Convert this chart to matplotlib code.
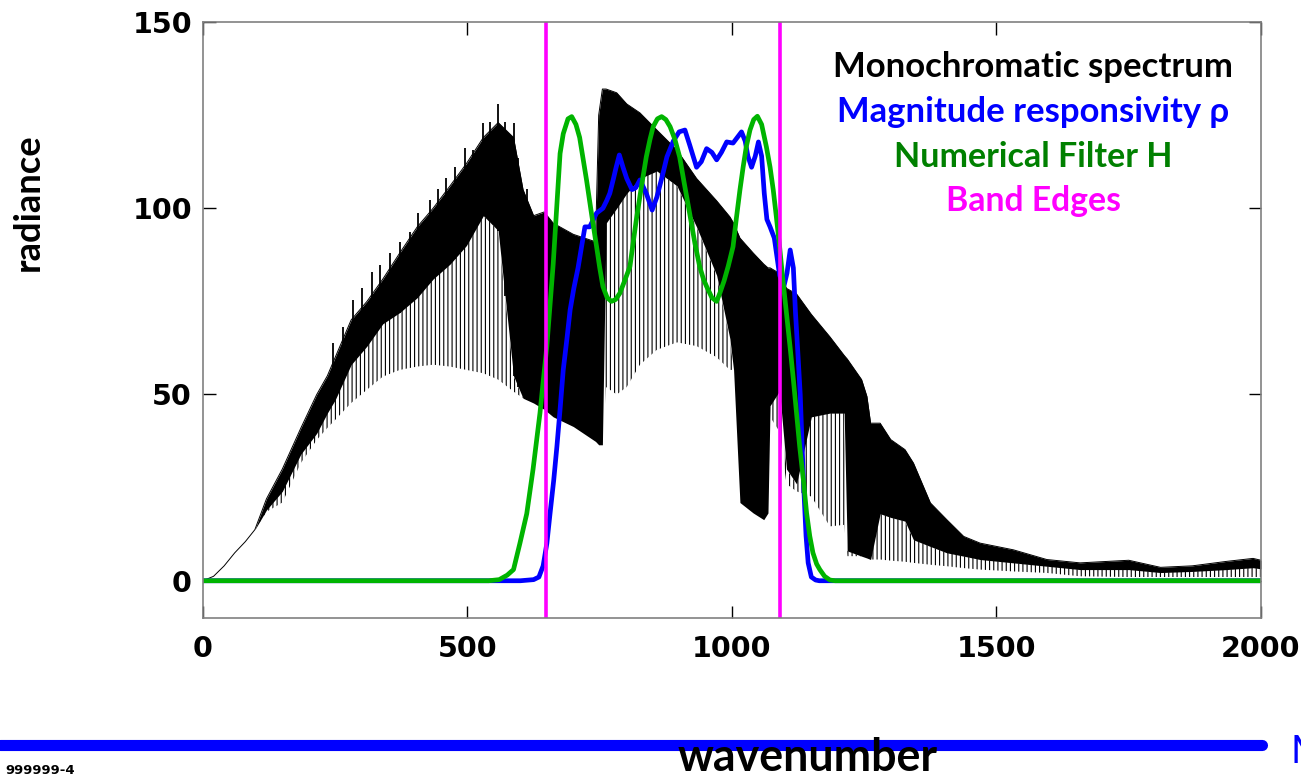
import numpy as np
import matplotlib
matplotlib.use("Agg")
import matplotlib.pyplot as plt
from matplotlib.lines import Line2D

# monochromatic spectrum, read off the picture as three edges:
# top of the black mass, bottom of the solid black part, bottom of the sparse lines
SPEC_WN = [0, 20, 40, 60, 80, 98, 120, 150, 185, 215, 235, 250, 280, 310, 340,
           372, 405, 435, 467, 498, 530, 558, 587, 605, 625, 645, 662, 700, 742,
           748, 755, 762, 782, 801, 826, 858, 896, 933, 971, 996, 1003, 1015,
           1040, 1060, 1068, 1072, 1090, 1103, 1122, 1150, 1185, 1212, 1218,
           1245, 1255, 1262, 1280, 1300, 1327, 1343, 1375, 1406, 1438, 1469, 1532, 1595,
           1658, 1750, 1810, 1870, 1935, 1985, 2000]
SPEC_HI = [0, 1.2, 4.0, 7.5, 10.5, 13.7, 22, 30, 41, 50, 55, 60, 70, 75, 81,
           88, 95, 100, 106, 112, 119, 123, 119, 105, 98, 99, 96, 93, 91,
           125, 132, 132, 131, 128, 125.6, 121, 115.6, 108, 102, 97.7, 96, 92,
           88, 85, 84, 84, 82.5, 78.5, 77, 71.5, 65.5, 60.5, 59.5,
           54, 49.5, 42.3, 42.3, 37.9, 35.2, 31.6, 20.9, 16.4, 11.9, 10.1, 8.3, 5.7,
           4.8, 5.5, 3.6, 4.0, 5.2, 6.0, 5.5]
SPEC_CORE = [0, 1.2, 4.0, 7.5, 10.5, 13.7, 19, 24, 34, 39.6, 45, 48.6, 58, 63, 69,
             72, 76, 81, 85, 90, 98, 94, 55, 49, 47.7, 46, 44, 41.4, 37.4,
             36.5, 36.5, 96, 100, 104, 108, 110, 106, 95, 82, 65, 56.6, 21,
             18.2, 16.4, 18.2, 47, 51, 30, 26, 44, 45, 45, 8,
             6.6, 6.1, 5.7, 18, 17, 16, 11, 9.2, 7.5, 6.6, 5.7, 4.8, 3.9,
             3.0, 3.0, 2.2, 2.5, 3.0, 3.5, 3.2]
SPEC_LO = [0, 1.2, 4.0, 7.5, 10.5, 13.7, 18.5, 21, 31.6, 37.8, 41, 43.2, 47.7, 51.3, 54.8,
           56.6, 57.5, 58, 57.5, 56.6, 55.7, 54, 50.8, 49, 47.7, 46, 44, 41.4, 37.4,
           36.5, 36.5, 52, 50, 52, 58, 62, 64, 63, 60, 56.6, 56.6, 21,
           18.2, 16.4, 18.2, 44, 40, 26, 24, 22.6, 14.6, 15, 6.6,
           6.6, 6.1, 5.7, 5.7, 5.4, 5.1, 4.8, 4.3, 3.9, 3.4, 3.0, 2.5, 2.1,
           1.2, 1.0, 1.0, 1.0, 1.0, 1.0, 1.0]

# tallest single lines sticking out above the black mass
SPIKE_WN = [246, 265, 284, 300, 319, 335, 354, 372, 391, 407, 429, 445, 460,
            476, 495, 511, 530, 542, 558, 571, 587, 596, 612]
SPIKE_TOP = [63.7, 68.2, 75.4, 78.5, 83, 84.8, 87.9, 91, 93.7, 98.6, 102.2,
             105.3, 108, 111.1, 116.1, 115.6, 122.8, 123.2, 128.1, 123.2, 122.8,
             113.4, 105.3]

# magnitude responsivity rho
RHO_WN = [0, 600, 625, 635, 643, 650, 656, 663, 669, 675, 681, 688, 694, 701,
          709, 716, 722, 731, 744, 756, 763, 769, 776, 781, 787, 794, 801, 811,
          818, 826, 838, 849, 858, 868, 877, 889, 900, 911, 920, 933, 942, 952,
          962, 971, 980, 990, 1002, 1010, 1018, 1025, 1030, 1037, 1044, 1050,
          1056, 1061, 1066, 1072, 1080, 1090, 1098, 1104, 1110, 1116, 1120,
          1125, 1129, 1135, 1140, 1144, 1150, 1158, 1165, 2000]
RHO = [0, 0, 0.3, 1, 4, 10, 18, 27, 36, 46, 56.6, 65, 72.7, 78.5,
       84, 90, 95, 95, 98.7, 100, 102, 104, 108, 111, 114.3, 111, 108, 105,
       105.5, 107.6, 104, 99.5, 103, 108.5, 113.8, 118, 120.5, 121, 117, 111, 112.5, 116,
       115, 113, 115, 117.8, 117.5, 119, 120.5, 118, 114, 111, 114, 117.8,
       114, 104, 97, 95, 92, 82, 79, 82.6, 88.8, 84, 72,
       60, 50, 27, 12, 4.8, 1, 0.2, 0, 0]

# numerical filter H
H_WN = [0, 540, 560, 575, 587, 599, 612, 624, 637, 650, 662, 675, 681, 690, 697,
        705, 712, 725, 735, 744, 750, 756, 764, 772, 780, 788, 797, 807, 819,
        829, 838, 845, 851, 859, 867, 875, 883, 892, 901, 910, 920, 930, 939,
        946, 952, 962, 971, 977, 985, 993, 1002, 1008, 1015, 1021, 1027, 1034,
        1041, 1048, 1056, 1065, 1072, 1078, 1084, 1090, 1096, 1103, 1110, 1116,
        1122, 1128, 1135, 1141, 1147, 1153, 1160, 1166, 1175, 1185, 1195, 2000]
H = [0, 0, 0.3, 1.5, 3, 10, 18, 30, 45, 63, 85, 114.7, 120, 124, 124.6,
     122.5, 119, 107.6, 98, 89.7, 84, 79, 76, 75, 75.5, 77.2, 80.5, 84.3, 96.8,
     106, 113.8, 118.5, 121.9, 124, 124.6, 123.8, 121.9, 118.5, 113.8, 106.5, 98.6, 90.5, 84.3,
     81, 79, 76, 75, 77.2, 80.5, 84.5, 89.7, 97, 104.9, 111, 116.5, 121,
     123.8, 124.7, 122.5, 116.5, 111, 104.9, 97.5, 89.7, 81, 71.8, 62.5, 54,
     45, 36, 27, 18.2, 12, 7.5, 4.5, 3, 1.2, 0.2, 0, 0]

BAND_EDGES = [648, 1091]

LEGEND_LINES = ["Monochromatic spectrum", "Magnitude responsivity ρ",
                "Numerical Filter H", "Band Edges"]
LEGEND_COLORS = ["black", "blue", "#008000", "magenta"]
LEGEND_WIDTHS = [400, 392, 278, 175]   # pixel widths on the slide
LEGEND_BASELINES = [77, 122, 167, 211]

XTICKS = [0, 500, 1000, 1500, 2000]
YTICKS = [0, 50, 100, 150]

plt.rcParams["hatch.linewidth"] = 0.8
SANS = ["Lato", "DejaVu Sans"]

fig = plt.figure(figsize=(13.01, 7.76), dpi=100)
ax = fig.add_axes([0.15603, 0.20361, 0.81322, 0.76804])


def fit_width(txt, width_px, vertical=False):
    r = fig.canvas.get_renderer()
    bb = txt.get_window_extent(r)
    w = bb.height if vertical else bb.width
    txt.set_fontsize(txt.get_fontsize() * width_px / w)


# spectrum
ax.fill_between(SPEC_WN, SPEC_CORE, SPEC_HI, color="black", lw=0)
ax.fill_between(SPEC_WN, SPEC_LO, SPEC_CORE, facecolor="none", edgecolor="black",
                hatch="||||", lw=0)
ax.plot(SPEC_WN, SPEC_HI, color="black", lw=0.7)
ax.vlines(SPIKE_WN, np.interp(SPIKE_WN, SPEC_WN, SPEC_CORE), SPIKE_TOP,
          color="black", lw=1.3)

ax.plot(RHO_WN, RHO, color="blue", lw=3.4, solid_joinstyle="round")
ax.plot(H_WN, H, color="#00b400", lw=3.4, solid_joinstyle="round")
for e in BAND_EDGES:
    ax.axvline(e, color="magenta", lw=2.6)

ax.set_xlim(0, 2000)
ax.set_ylim(-10, 150)
ax.set_xticks(XTICKS)
ax.set_yticks(YTICKS)
ax.tick_params(direction="in", length=9, width=1, top=True, right=True,
               labelsize=20.5, color="black")
ax.tick_params(axis="x", pad=12)
ax.tick_params(axis="y", pad=8)
for lab in ax.get_xticklabels() + ax.get_yticklabels():
    lab.set_fontweight("bold")
for sp in ax.spines.values():
    sp.set_color("#808080")
    sp.set_linewidth(1.2)

# coloured text block used as legend
for s, c, w, yb in zip(LEGEND_LINES, LEGEND_COLORS, LEGEND_WIDTHS, LEGEND_BASELINES):
    t = fig.text(1033 / 1301, 1 - yb / 776, s, color=c, ha="center", va="baseline",
                 fontsize=20, fontweight="bold", family=SANS)
    fit_width(t, w)

# axis labels placed like on the slide
t = fig.text(28 / 1301, 1 - 202 / 776, "radiance", rotation=90, ha="center",
             va="center", fontsize=26, fontweight="bold", family=SANS)
fit_width(t, 138, vertical=True)
t = fig.text(808 / 1301, 1 - 771 / 776, "wavenumber", ha="center", va="baseline",
             fontsize=30, fontweight="bold", family=SANS)
fit_width(t, 260)

# slide decorations
fig.add_artist(Line2D([0, 1262 / 1301], [1 - 744.5 / 776] * 2, color="blue", lw=8,
                      solid_capstyle="round", transform=fig.transFigure, zorder=0))
fig.text(1290 / 1301, 1 - 763 / 776, "M", color="blue", ha="left", va="baseline",
         fontsize=28, family=SANS)
fig.text(5 / 1301, 1 - 774 / 776, "999999-4", ha="left", va="baseline",
         fontsize=9.5, fontweight="bold")

fig.savefig("out.png", dpi=100)
